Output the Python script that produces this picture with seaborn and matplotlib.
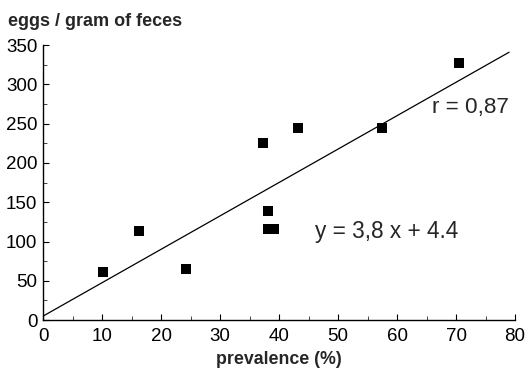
import matplotlib
matplotlib.use("Agg")
import matplotlib.pyplot as plt
import seaborn as sns
import pandas as pd
from matplotlib.ticker import MultipleLocator

prevalence = [10.2, 16.3, 24.2, 37.3, 38.1, 38.1, 39.2, 43.2, 57.5, 70.5]
eggs = [61, 114, 65, 226, 139, 116, 116, 244, 245, 327]
fit_x = [0, 79]
fit_y = [5, 341]
x_ticks = [0, 10, 20, 30, 40, 50, 60, 70, 80]
y_ticks = [0, 50, 100, 150, 200, 250, 300, 350]

sns.set_style("ticks")
plt.rcParams["font.family"] = ["Liberation Sans", "DejaVu Sans"]

df = pd.DataFrame({"prevalence": prevalence, "eggs": eggs})
fit = pd.DataFrame({"x": fit_x, "y": fit_y})

fig = plt.figure(figsize=(5.25, 3.7), dpi=100)
ax = fig.add_axes([0.082, 0.135, 0.899, 0.743])

sns.lineplot(data=fit, x="x", y="y", ax=ax, color="black", linewidth=0.9)
sns.scatterplot(data=df, x="prevalence", y="eggs", ax=ax, marker="s",
                color="black", s=62, edgecolor="black", linewidth=0, zorder=3)

ax.set_xlim(0, 80)
ax.set_ylim(0, 350)
ax.set_xticks(x_ticks)
ax.set_yticks(y_ticks)
ax.xaxis.set_minor_locator(MultipleLocator(5))
ax.yaxis.set_minor_locator(MultipleLocator(25))
ax.tick_params(axis="x", which="major", direction="in", length=4,
               width=0.8, labelsize=13.5, pad=6, colors="black")
ax.tick_params(axis="y", which="major", direction="in", length=4,
               width=0.8, labelsize=13.5, pad=4, colors="black")
ax.tick_params(axis="both", which="minor", direction="in", length=3, width=0.6)
for s in ["top", "right"]:
    ax.spines[s].set_visible(False)
for s in ["left", "bottom"]:
    ax.spines[s].set_color("black")
    ax.spines[s].set_linewidth(1.0)

ax.set_xlabel("prevalence (%)", fontsize=12.8, fontweight="bold", labelpad=4)
ax.set_ylabel("")
fig.text(0.015, 0.943, "eggs / gram of feces", fontsize=13, fontweight="bold",
         ha="left", va="center")

ax.text(65.9, 270, "r = 0,87", fontsize=16.2, ha="left", va="center")
ax.text(46.1, 113, "y = 3,8 x + 4.4", fontsize=16.3, ha="left", va="center")

fig.savefig("out.png", dpi=100)
